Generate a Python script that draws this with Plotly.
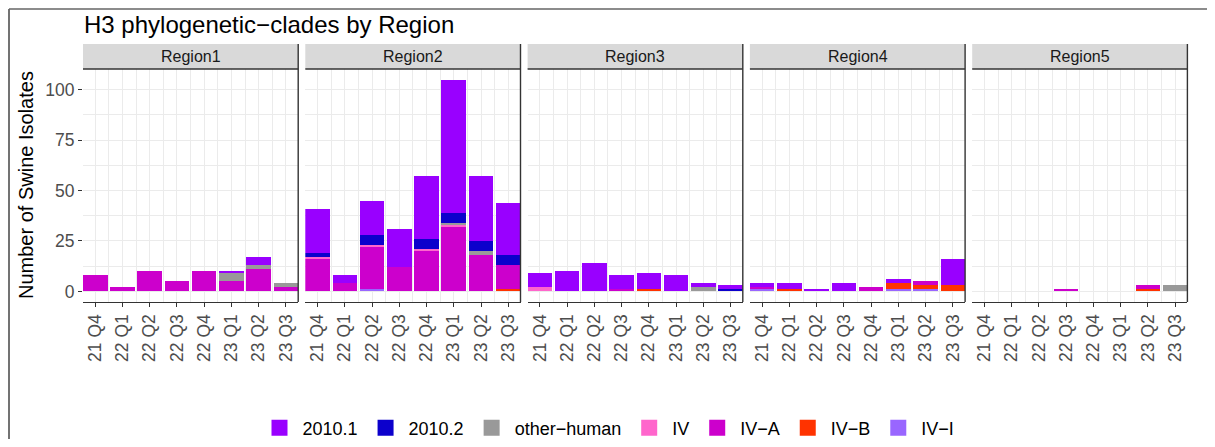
import plotly.graph_objects as go

# the page body keeps its default 8px margin, so the figure is drawn 8px in
OFF = 8
W, H = 1215 - 2 * OFF, 447 - 2 * OFF

quarters = ["21 Q4", "22 Q1", "22 Q2", "22 Q3", "22 Q4", "23 Q1", "23 Q2", "23 Q3"]
regions = ["Region1", "Region2", "Region3", "Region4", "Region5"]
clades = ["2010.1", "2010.2", "other\u2212human", "IV", "IV\u2212A", "IV\u2212B", "IV\u2212I"]
clade_colors = ["#9900FF", "#0C00CC", "#999999", "#FF66CC", "#CC00CC", "#FF3300", "#9966FF"]

# counts per region (Region1..Region5), one value per quarter
c_2010_1 = [[0, 0, 0, 0, 0, 1, 4, 0],
            [22, 4, 17, 19, 31, 66, 32, 26],
            [7, 10, 14, 7, 8, 8, 2, 2],
            [2, 3, 1, 4, 0, 2, 0, 13],
            [0, 0, 0, 0, 0, 0, 0, 0]]
c_2010_2 = [[0, 0, 0, 0, 0, 0, 0, 0],
            [2, 0, 5, 0, 5, 5, 5, 5],
            [0, 0, 0, 0, 0, 0, 0, 1],
            [0, 0, 0, 0, 0, 0, 0, 0],
            [0, 0, 0, 0, 0, 0, 0, 0]]
c_other_human = [[0, 0, 0, 0, 0, 4, 2, 2],
                 [0, 0, 0, 0, 0, 1, 2, 0],
                 [0, 0, 0, 0, 0, 0, 2, 0],
                 [0, 0, 0, 0, 0, 0, 0, 0],
                 [0, 0, 0, 0, 0, 0, 0, 3]]
c_iv = [[0, 0, 0, 0, 0, 0, 0, 0],
        [1, 0, 1, 0, 1, 1, 0, 0],
        [2, 0, 0, 0, 0, 0, 0, 0],
        [0, 0, 0, 0, 0, 0, 0, 0],
        [0, 0, 0, 0, 0, 0, 0, 0]]
c_iv_a = [[8, 2, 10, 5, 10, 5, 11, 2],
          [16, 4, 21, 12, 20, 32, 18, 12],
          [0, 0, 0, 1, 0, 0, 0, 0],
          [1, 0, 0, 0, 2, 0, 2, 0],
          [0, 0, 0, 1, 0, 0, 2, 0]]
c_iv_b = [[0, 0, 0, 0, 0, 0, 0, 0],
          [0, 0, 0, 0, 0, 0, 0, 1],
          [0, 0, 0, 0, 1, 0, 0, 0],
          [0, 1, 0, 0, 0, 3, 2, 3],
          [0, 0, 0, 0, 0, 0, 1, 0]]
c_iv_i = [[0, 0, 0, 0, 0, 0, 0, 0],
          [0, 0, 1, 0, 0, 0, 0, 0],
          [0, 0, 0, 0, 0, 0, 0, 0],
          [1, 0, 0, 0, 0, 1, 1, 0],
          [0, 0, 0, 0, 0, 0, 0, 0]]

counts = [c_2010_1, c_2010_2, c_other_human, c_iv, c_iv_a, c_iv_b, c_iv_i]

FONT = "Liberation Sans, Arial, sans-serif"
DARK = "#333333"
GRID = "#EBEBEB"


# helpers: page pixel -> paper fraction
def px_x(p):
    return (p - OFF) / W


def px_y(p):
    return 1 - (p - OFF) / H


# panel geometry in page pixels
panel_w, panel_gap, panel_left0 = 215.2, 7.1, 83
panel_top, panel_bottom, strip_top = 69, 302, 44

fig = go.Figure()
xpos = list(range(len(quarters)))

for r in range(len(regions)):
    suffix = "" if r == 0 else str(r + 1)
    # ggplot stacks the first level on top -> add bottom-most clade first
    for k in reversed(range(len(clades))):
        fig.add_trace(go.Bar(
            x=xpos, y=counts[k][r], name=clades[k],
            marker=dict(color=clade_colors[k], line=dict(width=0)),
            xaxis="x" + suffix, yaxis="y" + suffix,
            legendgroup=clades[k], showlegend=False,
        ))

# legend entries with bigger square keys (no data drawn)
for k in reversed(range(len(clades))):
    fig.add_trace(go.Scatter(
        x=[None], y=[None], mode="markers", name=clades[k],
        marker=dict(symbol="square", size=16, color=clade_colors[k], line=dict(width=0)),
        legendgroup=clades[k], showlegend=True,
    ))

layout = dict(
    width=W, height=H,
    margin=dict(l=0, r=0, t=0, b=0, autoexpand=False),
    barmode="stack", bargap=0.1,
    plot_bgcolor="white", paper_bgcolor="white",
    font=dict(family=FONT, color="#4D4D4D"),
    showlegend=True,
    legend=dict(orientation="h", x=px_x(608), xanchor="center", y=px_y(428), yanchor="middle",
                traceorder="reversed", font=dict(size=18, color="black"),
                itemwidth=36, bgcolor="rgba(0,0,0,0)"),
)

shapes = []
annotations = []
for r, reg in enumerate(regions):
    suffix = "" if r == 0 else str(r + 1)
    left = panel_left0 + r * (panel_w + panel_gap)
    right = left + panel_w
    layout["xaxis" + suffix] = dict(
        domain=[px_x(left), px_x(right)], anchor="y" + suffix,
        range=[-0.45, len(quarters) - 0.55],
        tickmode="array", tickvals=xpos, ticktext=quarters, tickangle=-90,
        ticks="outside", ticklen=4, tickcolor=DARK, tickwidth=1,
        tickfont=dict(size=17.5, color="#4D4D4D"),
        showline=True, linecolor=DARK, linewidth=1.4,
        showgrid=True, gridcolor=GRID, gridwidth=1,
        minor=dict(tick0=0.5, dtick=1, showgrid=True, gridcolor=GRID, gridwidth=0.7),
        zeroline=False, automargin=False, fixedrange=True,
    )
    layout["yaxis" + suffix] = dict(
        domain=[px_y(panel_bottom), px_y(panel_top)], anchor="x" + suffix,
        range=[-5.25, 110.25], tickmode="linear", tick0=0, dtick=25,
        ticks="outside" if r == 0 else "", ticklen=4, tickcolor=DARK,
        showticklabels=(r == 0), tickfont=dict(size=17.5, color="#4D4D4D"),
        showgrid=True, gridcolor=GRID, gridwidth=1,
        minor=dict(dtick=12.5, showgrid=True, gridcolor=GRID, gridwidth=0.7),
        showline=False, zeroline=False, automargin=False, fixedrange=True,
    )
    if r > 0:
        layout["yaxis" + suffix]["matches"] = "y"

    # facet strip
    shapes.append(dict(type="rect", xref="paper", yref="paper",
                       x0=px_x(left), x1=px_x(right), y0=px_y(panel_top), y1=px_y(strip_top),
                       fillcolor="#D9D9D9", line=dict(width=0), layer="below"))
    shapes.append(dict(type="line", xref="paper", yref="paper",
                       x0=px_x(left), x1=px_x(right), y0=px_y(panel_top), y1=px_y(panel_top),
                       line=dict(color=DARK, width=1.4)))
    shapes.append(dict(type="line", xref="paper", yref="paper",
                       x0=px_x(right), x1=px_x(right), y0=px_y(strip_top), y1=px_y(panel_bottom),
                       line=dict(color=DARK, width=1.4)))
    annotations.append(dict(text=reg, xref="paper", yref="paper",
                            x=px_x((left + right) / 2), y=px_y(56.5),
                            xanchor="center", yanchor="middle", showarrow=False,
                            font=dict(size=16, color="#1A1A1A")))

# outer frame (left and top)
shapes.append(dict(type="line", xref="paper", yref="paper",
                   x0=px_x(9), x1=px_x(9), y0=0, y1=px_y(9),
                   line=dict(color="#444444", width=1.5)))
shapes.append(dict(type="line", xref="paper", yref="paper",
                   x0=px_x(9), x1=1, y0=px_y(9), y1=px_y(9),
                   line=dict(color="#666666", width=1.5)))

annotations.append(dict(text="H3 phylogenetic\u2212clades by Region", xref="paper", yref="paper",
                        x=px_x(82), y=px_y(24), xanchor="left", yanchor="middle",
                        showarrow=False, font=dict(size=24, color="black")))
annotations.append(dict(text="Number of Swine Isolates", xref="paper", yref="paper",
                        x=px_x(25.5), y=px_y(185.5), xanchor="center", yanchor="middle",
                        textangle=-90, showarrow=False, font=dict(size=20, color="black")))

layout["shapes"] = shapes
layout["annotations"] = annotations
fig.update_layout(**layout)

fig.write_html("out.html", config={"displayModeBar": False})
